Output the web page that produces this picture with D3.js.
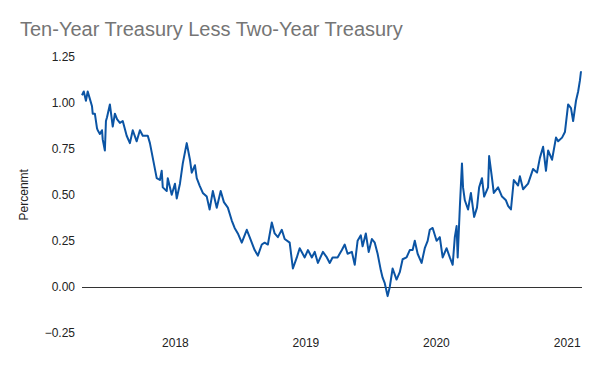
<!DOCTYPE html>
<html>
<head>
<meta charset="utf-8">
<script src="https://cdn.jsdelivr.net/npm/d3@7"></script>
<style>
	body { margin: 0; background: #fff; }
	text { font-family: "Liberation Sans", Arial, sans-serif; }
</style>
</head>
<body>
<script>
// chart text
var title = "Ten-Year Treasury Less Two-Year Treasury";
var yLabel = "Percenmt";
var yTicks = [-0.25, 0, 0.25, 0.5, 0.75, 1, 1.25];
var xTickYears = ["2018", "2019", "2020", "2021"];

// spread readings (date, percent)
var dates = [
	"2017-04-16","2017-04-21","2017-04-27","2017-05-02","2017-05-08","2017-05-14","2017-05-16","2017-05-22",
	"2017-05-28","2017-05-30","2017-06-05","2017-06-11","2017-06-13","2017-06-19","2017-06-22","2017-06-25",
	"2017-07-03","2017-07-11","2017-07-17","2017-07-23","2017-07-31","2017-08-08","2017-08-19","2017-08-28",
	"2017-09-05","2017-09-16","2017-09-25","2017-10-03","2017-10-17","2017-10-23","2017-10-31","2017-11-11",
	"2017-11-20","2017-11-25","2017-11-28","2017-12-09","2017-12-12","2017-12-23","2018-01-01","2018-01-06",
	"2018-01-15","2018-01-23","2018-02-03","2018-02-12","2018-02-17","2018-02-26","2018-03-03","2018-03-11",
	"2018-03-20","2018-03-31","2018-04-08","2018-04-17","2018-04-28","2018-05-09","2018-05-18","2018-05-29",
	"2018-06-09","2018-06-17","2018-06-26","2018-07-07","2018-07-21","2018-07-29","2018-08-12","2018-08-21",
	"2018-09-01","2018-09-09","2018-09-18","2018-09-29","2018-10-07","2018-10-16","2018-10-27","2018-11-04",
	"2018-11-18","2018-11-27","2018-12-08","2018-12-16","2018-12-30","2019-01-08","2019-01-19","2019-01-27",
	"2019-02-05","2019-02-19","2019-03-02","2019-03-10","2019-03-18","2019-04-01","2019-04-13","2019-04-21",
	"2019-04-29","2019-05-11","2019-05-19","2019-05-27","2019-06-05","2019-06-10","2019-06-19","2019-06-27",
	"2019-07-06","2019-07-14","2019-07-22","2019-07-31","2019-08-05","2019-08-11","2019-08-19","2019-08-25",
	"2019-09-02","2019-09-13","2019-09-22","2019-09-30","2019-10-11","2019-10-20","2019-10-28","2019-11-03",
	"2019-11-11","2019-11-22","2019-12-01","2019-12-09","2019-12-15","2019-12-23","2020-01-03","2020-01-12",
	"2020-01-20","2020-01-31","2020-02-09","2020-02-17","2020-02-23","2020-02-28","2020-03-02","2020-03-08",
	"2020-03-14","2020-03-17","2020-03-22","2020-03-31","2020-04-08","2020-04-17","2020-04-25","2020-05-01",
	"2020-05-09","2020-05-15","2020-05-26","2020-05-29","2020-06-06","2020-06-11","2020-06-23","2020-07-04",
	"2020-07-15","2020-07-21","2020-07-29","2020-08-06","2020-08-18","2020-08-23","2020-09-01","2020-09-15",
	"2020-09-29","2020-10-10","2020-10-18","2020-10-27","2020-11-04","2020-11-10","2020-11-21","2020-12-02",
	"2020-12-08","2020-12-19","2020-12-27","2021-01-05","2021-01-13","2021-01-19","2021-01-27","2021-02-02",
	"2021-02-07","2021-02-10"
];
var spread = [
	1.04, 1.06, 1.01, 1.06, 1.02, 0.98, 0.94, 0.94,
	0.86, 0.85, 0.83, 0.85, 0.80, 0.74, 0.90, 0.92,
	0.99, 0.87, 0.94, 0.91, 0.89, 0.90, 0.82, 0.78,
	0.85, 0.79, 0.85, 0.82, 0.82, 0.78, 0.70, 0.59,
	0.58, 0.63, 0.54, 0.52, 0.59, 0.50, 0.56, 0.48,
	0.56, 0.67, 0.78, 0.69, 0.62, 0.66, 0.59, 0.55,
	0.51, 0.49, 0.42, 0.52, 0.43, 0.52, 0.46, 0.43,
	0.36, 0.32, 0.29, 0.24, 0.31, 0.27, 0.20, 0.17,
	0.23, 0.24, 0.23, 0.35, 0.29, 0.27, 0.31, 0.26,
	0.24, 0.10, 0.16, 0.21, 0.16, 0.20, 0.16, 0.19,
	0.13, 0.19, 0.16, 0.13, 0.16, 0.16, 0.20, 0.23,
	0.18, 0.19, 0.12, 0.25, 0.28, 0.22, 0.29, 0.19,
	0.26, 0.24, 0.18, 0.09, 0.05, 0.02, -0.05, 0.00,
	0.10, 0.04, 0.08, 0.15, 0.16, 0.20, 0.20, 0.25,
	0.18, 0.13, 0.21, 0.25, 0.31, 0.32, 0.25, 0.27,
	0.16, 0.21, 0.16, 0.12, 0.27, 0.33, 0.16, 0.43,
	0.67, 0.54, 0.47, 0.42, 0.51, 0.38, 0.43, 0.54,
	0.59, 0.49, 0.54, 0.71, 0.59, 0.51, 0.54, 0.49,
	0.47, 0.44, 0.42, 0.58, 0.55, 0.60, 0.53, 0.56,
	0.64, 0.62, 0.70, 0.76, 0.63, 0.74, 0.69, 0.81,
	0.79, 0.81, 0.84, 0.99, 0.97, 0.90, 1.01, 1.06,
	1.12, 1.17
];

var width = 600, height = 371;
var plot = { left: 82, right: 582, top: 56.5, bottom: 333 };

var parseDate = d3.timeParse("%Y-%m-%d");
var points = dates.map(function (d, i) { return { date: parseDate(d), value: spread[i] }; });

var svg = d3.select("body").append("svg")
	.attr("width", width)
	.attr("height", height);

var x = d3.scaleTime()
	.domain(d3.extent(points, function (d) { return d.date; }))
	.range([plot.left, plot.right - 1]);

var y = d3.scaleLinear()
	.domain([-0.25, 1.25])
	.range([plot.bottom, plot.top]);

// title
svg.append("text")
	.attr("x", 20)
	.attr("y", 36)
	.attr("fill", "#757575")
	.attr("font-size", "20px")
	.text(title);

// y axis labels
var yAxis = d3.axisLeft(y)
	.tickValues(yTicks)
	.tickSize(0)
	.tickPadding(0)
	.tickFormat(d3.format(".2f"));

svg.append("g")
	.attr("transform", "translate(75,0)")
	.call(yAxis)
	.call(function (g) { g.select(".domain").remove(); })
	.selectAll("text")
	.attr("fill", "#222")
	.attr("font-size", "12px")
	.attr("font-family", "Liberation Sans, Arial, sans-serif");

// x axis labels, one per year
var yearDates = xTickYears.map(function (yr) { return parseDate(yr + "-01-01"); });
var xAxis = d3.axisBottom(x)
	.tickValues(yearDates)
	.tickSize(0)
	.tickPadding(0)
	.tickFormat(d3.timeFormat("%Y"));

svg.append("g")
	.attr("transform", "translate(0,338)")
	.call(xAxis)
	.call(function (g) { g.select(".domain").remove(); })
	.selectAll("text")
	.attr("fill", "#222")
	.attr("font-size", "12px")
	.attr("font-family", "Liberation Sans, Arial, sans-serif");

// axis title
svg.append("text")
	.attr("transform", "translate(28," + ((plot.top + plot.bottom) / 2) + ") rotate(-90)")
	.attr("text-anchor", "middle")
	.attr("fill", "#222")
	.attr("font-size", "12px")
	.text(yLabel);

// zero baseline
svg.append("line")
	.attr("x1", plot.left)
	.attr("x2", plot.right)
	.attr("y1", Math.round(y(0)) + 0.5)
	.attr("y2", Math.round(y(0)) + 0.5)
	.attr("stroke", "#333")
	.attr("stroke-width", 1);

// spread line
var line = d3.line()
	.x(function (d) { return x(d.date); })
	.y(function (d) { return y(d.value); });

svg.append("path")
	.datum(points)
	.attr("fill", "none")
	.attr("stroke", "#0b54a4")
	.attr("stroke-width", 2)
	.attr("stroke-linejoin", "round")
	.attr("d", line);
</script>
</body>
</html>
